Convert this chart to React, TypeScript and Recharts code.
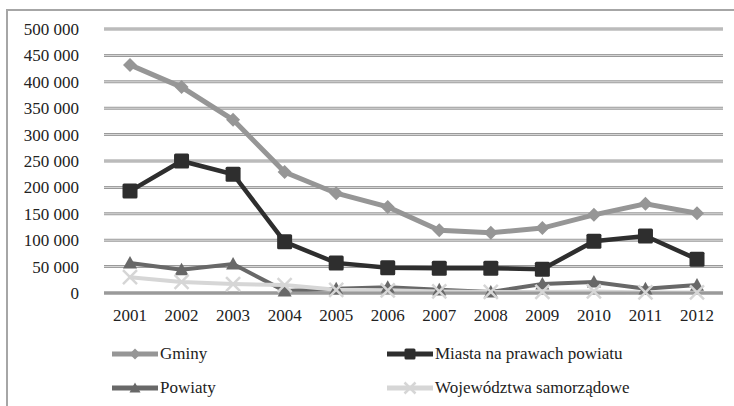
import { LineChart, Line, XAxis, YAxis, CartesianGrid, Legend } from 'recharts';

const years = ['2001', '2002', '2003', '2004', '2005', '2006', '2007', '2008', '2009', '2010', '2011', '2012'];
const gminy = [432000, 390000, 328000, 229000, 189000, 163000, 119000, 114000, 123000, 148000, 169000, 151000];
const miasta = [193000, 250000, 225000, 97000, 57000, 48000, 47000, 47000, 45000, 98000, 108000, 64000];
const powiaty = [57000, 44000, 55000, 4000, 8000, 11000, 6000, 2000, 17000, 21000, 8000, 15000];
const wojewodztwa = [30000, 21000, 17000, 15000, 6000, 5000, 3000, 2000, 2000, 3000, 1000, 1000];
const yTicks = [0, 50000, 100000, 150000, 200000, 250000, 300000, 350000, 400000, 450000, 500000];

const data = years.map((year, i) => ({
    year,
    gminy: gminy[i],
    miasta: miasta[i],
    powiaty: powiaty[i],
    wojewodztwa: wojewodztwa[i],
}));

const FONT = "'Times New Roman', 'Liberation Serif', Tinos, 'DejaVu Serif', serif";

const series = [
    { key: 'gminy', name: 'Gminy', color: '#969696', shape: 'diamond', width: 5 },
    { key: 'miasta', name: 'Miasta na prawach powiatu', color: '#2e2e2e', shape: 'square', width: 4.5 },
    { key: 'powiaty', name: 'Powiaty', color: '#686868', shape: 'triangle', width: 4 },
    { key: 'wojewodztwa', name: 'Województwa samorządowe', color: '#d6d6d6', shape: 'cross', width: 4 },
];

const fmt = (v: number) => String(v).replace(/\B(?=(\d{3})+(?!\d))/g, ' ');

const marker = (shape: string, cx: number, cy: number, s: number, color: string, key?: string) => {
    if (shape === 'diamond') {
        return <path key={key} d={`M${cx},${cy - s} L${cx + s},${cy} L${cx},${cy + s} L${cx - s},${cy} Z`} fill={color} />;
    }
    if (shape === 'square') {
        return <rect key={key} x={cx - s} y={cy - s} width={s * 2} height={s * 2} rx={1.5} fill={color} />;
    }
    if (shape === 'triangle') {
        return <path key={key} d={`M${cx},${cy - s} L${cx + s},${cy + s * 0.8} L${cx - s},${cy + s * 0.8} Z`} fill={color} />;
    }
    return (
        <g key={key} stroke={color} strokeWidth={2.5}>
            <line x1={cx - s} y1={cy - s} x2={cx + s} y2={cy + s} />
            <line x1={cx - s} y1={cy + s} x2={cx + s} y2={cy - s} />
        </g>
    );
};

const dotSize: Record<string, number> = { diamond: 7, square: 7.5, triangle: 7, cross: 7 };

const renderLegend = () => (
    <div style={{ position: 'relative', width: 734, height: 56, fontFamily: FONT, fontSize: 17, color: '#222' }}>
        {series.map((s, i) => {
            const left = i % 2 === 0 ? 112 : 387;
            const top = i < 2 ? 4 : 38;
            return (
                <div key={s.key} style={{ position: 'absolute', left, top, height: 20, display: 'flex', alignItems: 'center', whiteSpace: 'nowrap' }}>
                    <svg width={46} height={20} style={{ marginRight: 2 }}>
                        <line x1={0} y1={10} x2={46} y2={10} stroke={s.color} strokeWidth={5} />
                        {marker(s.shape, 23, 10, 5.5, s.color)}
                    </svg>
                    <span>{s.name}</span>
                </div>
            );
        })}
    </div>
);

export default function App() {
    return (
        <div style={{ position: 'relative', width: 734, height: 406, background: '#fff', fontFamily: FONT }}>
            <style>{`body{margin:0}`}</style>
            <div style={{ position: 'absolute', left: 6, top: 9, right: 0, bottom: 0, borderLeft: '2px solid #a6a6a6', borderTop: '2px solid #a6a6a6' }} />
            <LineChart width={734} height={406} data={data} margin={{ top: 29, right: 11, left: 8, bottom: 10 }} style={{ position: 'absolute', left: 0, top: 0, fontFamily: FONT }}>
                <CartesianGrid vertical={false} stroke="#9a9a9a" strokeWidth={3} />
                <CartesianGrid vertical={false} stroke="#dcdcdc" strokeWidth={1} />
                <XAxis
                    dataKey="year"
                    height={47}
                    tickSize={0}
                    tickMargin={16}
                    padding={{ left: 26, right: 26 }}
                    axisLine={{ stroke: '#9a9a9a', strokeWidth: 3 }}
                    tick={{ fill: '#222', fontSize: 17, fontFamily: FONT }}
                    interval={0}
                />
                <YAxis
                    width={96}
                    domain={[0, 500000]}
                    ticks={yTicks}
                    tickFormatter={fmt}
                    axisLine={false}
                    tickLine={false}
                    tickSize={0}
                    tickMargin={25}
                    tick={{ fill: '#222', fontSize: 17, fontFamily: FONT }}
                    interval={0}
                />
                <Legend verticalAlign="bottom" content={renderLegend} wrapperStyle={{ left: 0, width: 734 }} />
                {series.map((s) => (
                    <Line
                        key={s.key}
                        dataKey={s.key}
                        name={s.name}
                        stroke={s.color}
                        strokeWidth={s.width}
                        isAnimationActive={false}
                        dot={(p: any) => marker(s.shape, p.cx, p.cy, dotSize[s.shape], s.color, `${s.key}-${p.index}`)}
                        activeDot={false}
                    />
                ))}
            </LineChart>
        </div>
    );
}
